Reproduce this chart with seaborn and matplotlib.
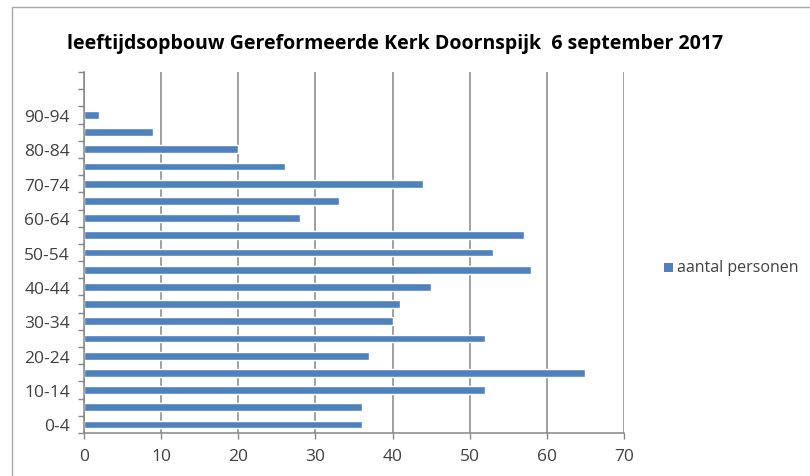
import matplotlib
matplotlib.use("Agg")
import matplotlib.pyplot as plt
import seaborn as sns
import pandas as pd
from matplotlib.patches import Rectangle

# ---- data ----
age_groups = ["0-4", "5-9", "10-14", "15-19", "20-24", "25-29", "30-34", "35-39",
              "40-44", "45-49", "50-54", "55-59", "60-64", "65-69", "70-74",
              "75-79", "80-84", "85-89", "90-94"]
counts = [36, 36, 52, 65, 37, 52, 40, 41, 45, 58, 53, 57, 28, 33, 44, 26, 20, 9, 2]
empty_groups = ["95-99", "100-104"]
x_ticks = [0, 10, 20, 30, 40, 50, 60, 70]
series_name = "aantal personen"
title = "leeftijdsopbouw Gereformeerde Kerk Doornspijk  6 september 2017"

df = pd.DataFrame({"groep": age_groups, "aantal": counts, "serie": series_name})
order = (age_groups + empty_groups)[::-1]  # top to bottom

sns.set_style("white")
plt.rcParams["font.family"] = ["Open Sans", "DejaVu Sans"]

fig = plt.figure(figsize=(8.1, 4.77), dpi=100)
ax = fig.add_axes([84 / 810, 43 / 477, 540 / 810, 361 / 477])

bar_color = "#4F81BD"
sns.barplot(data=df, y="groep", x="aantal", hue="serie", order=order,
            palette=[bar_color], width=0.45, orient="h", ax=ax, legend=False,
            saturation=1)

n = len(order)
ax.set_ylim(n - 0.5, -0.5)
ax.set_xlim(0, 70)
ax.set_xticks(x_ticks)
ax.set_xticklabels([str(v) for v in x_ticks])

# category boundaries as major ticks (no labels); labels on minor ticks
ax.set_yticks([i - 0.5 for i in range(n + 1)])
ax.set_yticklabels([])
label_pos = [i for i, g in enumerate(order) if g in age_groups[::2]]
ax.set_yticks(label_pos, minor=True)
ax.set_yticklabels([order[i] for i in label_pos], minor=True)

grey = "#868686"
txt = "#404040"
ax.tick_params(axis="y", which="major", length=4, width=1, color=grey, direction="out", left=True)
ax.tick_params(axis="y", which="minor", length=0, pad=10, labelsize=12.5, labelcolor=txt)
ax.tick_params(axis="x", which="major", length=4, width=1, color=grey, direction="out",
               bottom=True, pad=7, labelsize=12.5, labelcolor=txt)

ax.set_xlabel("")
ax.set_ylabel("")
ax.grid(axis="x", color=grey, linewidth=1.1)
ax.grid(axis="y", visible=False)
ax.set_axisbelow(True)
for s in ["top", "right"]:
    ax.spines[s].set_visible(False)
for s in ["left", "bottom"]:
    ax.spines[s].set_color(grey)
    ax.spines[s].set_linewidth(1.1)

# title
fig.text(395 / 810, 1 - 44 / 477, title, ha="center", va="center",
         fontsize=14, fontweight="bold", color="#000000")

# legend
fig.patches.append(Rectangle((664 / 810, 1 - 273 / 477), 9 / 810, 9 / 477,
                             transform=fig.transFigure, facecolor=bar_color,
                             edgecolor="none"))
fig.text(677 / 810, 1 - 268 / 477, series_name, ha="left", va="center",
         fontsize=11.5, color=txt)

# chart border
fig.patches.append(Rectangle((12 / 810, -0.1), 1.2, 1 - 8 / 477 + 0.1,
                             transform=fig.transFigure, facecolor="none",
                             edgecolor="#a6a6a6", linewidth=1))

fig.savefig("out.png", dpi=100)
